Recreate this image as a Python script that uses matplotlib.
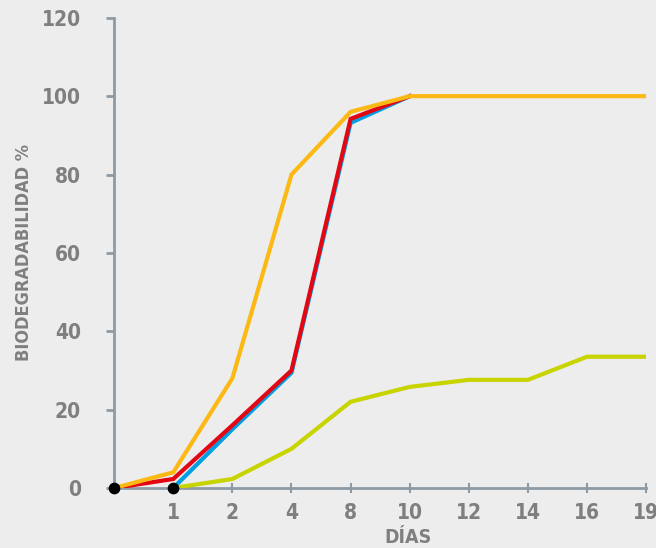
import matplotlib.pyplot as plt

# Days (categorical positions along the x axis)
dias = ['', '1', '2', '4', '8', '10', '12', '14', '16', '19']

# Biodegradability % per series
amarillo = [0, 4, 28, 80, 96, 100, 100, 100, 100, 100]
rojo = [0, 2.3, 16, 30, 94.2, 100]
azul = [0, 15, 29.4, 93.2, 100]
lima = [0, 2.3, 10, 22, 25.8, 27.6, 27.6, 33.5, 33.5]
puntos_x = [0, 1]
puntos_y = [0, 0]

BG = '#ededed'
AXIS = '#8e9aa3'
TEXT = '#7f7f7f'

plt.rcParams['font.family'] = ['DejaVu Sans']
plt.rcParams['font.stretch'] = 'condensed'
plt.rcParams['font.weight'] = 'bold'

fig = plt.figure(figsize=(6.56, 5.48), dpi=100, facecolor=BG)
ax = fig.add_axes([0.174, 0.1095, 0.811, 0.858], facecolor=BG)

pos = list(range(len(dias)))
ax.plot(pos[1:1 + len(azul)], azul, color='#009fe3', lw=3, solid_joinstyle='miter', zorder=3)
ax.plot(pos[:len(rojo)], rojo, color='#e30613', lw=3, solid_joinstyle='miter', zorder=4)
ax.plot(pos[1:1 + len(lima)], lima, color='#c8d400', lw=3, solid_joinstyle='miter', zorder=3)
ax.plot(pos, amarillo, color='#fdb913', lw=3, solid_joinstyle='miter', zorder=5)
ax.scatter(puntos_x, puntos_y, s=55, color='black', zorder=6, clip_on=False)

ax.set_xlim(0, len(dias) - 1)
ax.set_ylim(0, 120)
ax.set_xticks(pos)
ax.set_xticklabels(dias)
ax.set_yticks(range(0, 121, 20))

for s in ['top', 'right']:
    ax.spines[s].set_visible(False)
for s in ['left', 'bottom']:
    ax.spines[s].set_color(AXIS)
    ax.spines[s].set_linewidth(2)

ax.tick_params(axis='y', direction='out', length=6, width=2, color=AXIS,
               labelcolor=TEXT, labelsize=15, pad=18)
ax.tick_params(axis='x', direction='inout', length=7, width=1.5, color=AXIS,
               labelcolor=TEXT, labelsize=15, pad=7)

ax.set_ylabel('BIODEGRADABILIDAD %', color=TEXT, fontsize=13, fontweight='bold', labelpad=6)
ax.set_xlabel('DÍAS', color=TEXT, fontsize=14, fontweight='bold', labelpad=5)
ax.xaxis.set_label_coords(0.553, -0.085)

fig.savefig('out.png', dpi=100, facecolor=BG)
